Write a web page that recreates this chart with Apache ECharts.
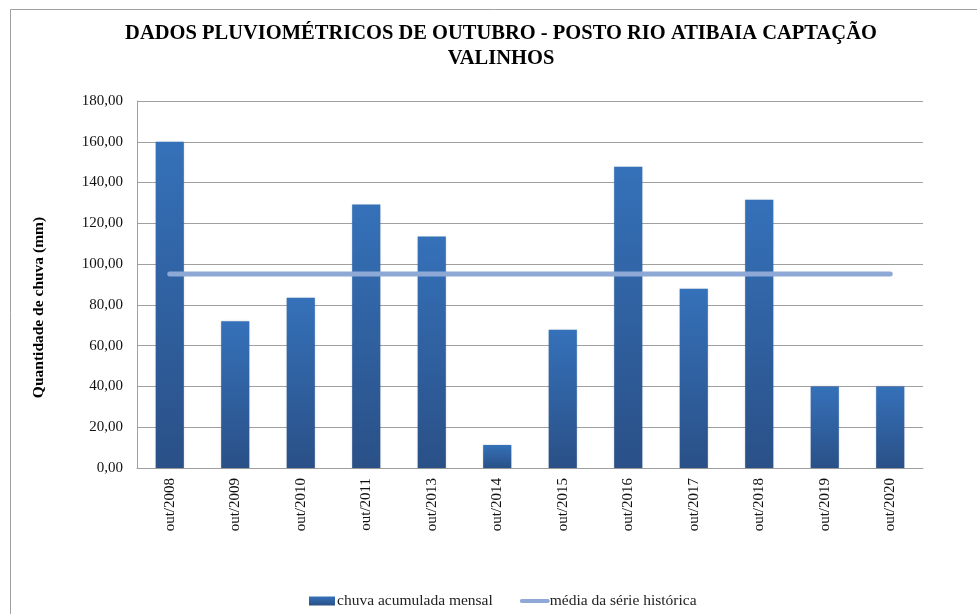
<!DOCTYPE html>
<html><head><meta charset="utf-8">
<script src="https://cdn.jsdelivr.net/npm/echarts@6/dist/echarts.min.js"></script>
<style>html,body{margin:0;padding:0;background:#fff}#c{width:977px;height:614px}</style>
</head><body><div id="c"></div>
<script>
const categories = ['out/2008','out/2009','out/2010','out/2011','out/2013','out/2014','out/2015','out/2016','out/2017','out/2018','out/2019','out/2020'];
const chuvaMensal = [160, 72, 83.5, 129.2, 113.5, 11.3, 67.8, 147.8, 87.9, 131.6, 40, 40];
const mediaHistorica = [95.1, 95.1, 95.1, 95.1, 95.1, 95.1, 95.1, 95.1, 95.1, 95.1, 95.1, 95.1];
const yTicks = [0, 20, 40, 60, 80, 100, 120, 140, 160, 180];

const chart = echarts.init(document.getElementById('c'), null, {renderer: 'canvas'});
const serif = '"Liberation Serif", "DejaVu Serif", serif';
chart.setOption({
  animation: false,
  backgroundColor: '#fff',
  textStyle: {fontFamily: serif},
  graphic: [{
    type: 'rect', silent: true, z: -1,
    shape: {x: 10.5, y: 9.5, width: 1200, height: 800},
    style: {fill: 'none', stroke: '#a0a0a0', lineWidth: 1}
  }],
  title: {
    text: 'DADOS PLUVIOMÉTRICOS DE OUTUBRO - POSTO RIO ATIBAIA CAPTAÇÃO\nVALINHOS',
    left: 496, top: 16, textAlign: 'center',
    textStyle: {fontFamily: serif, fontWeight: 'bold', fontSize: 20.5, color: '#000', lineHeight: 25}
  },
  legend: {
    bottom: 0, left: 304, itemGap: 27, itemWidth: 26, itemHeight: 9,
    textStyle: {fontFamily: serif, fontSize: 15.5, color: '#222', padding: [0,0,0,-3]},
    data: [
      {name: 'chuva acumulada mensal', icon: 'rect'},
      {name: 'média da série histórica', itemStyle: {opacity: 0}, lineStyle: {width: 4, cap: 'round', color: '#8EA9D5'}}
    ]
  },
  grid: {left: 137, right: 54, top: 101, bottom: 146},
  xAxis: {
    type: 'category', data: categories,
    axisLine: {lineStyle: {color: '#a0a0a0'}},
    axisTick: {show: false},
    axisLabel: {rotate: 90, fontFamily: serif, fontSize: 15, color: '#111', margin: 10}
  },
  yAxis: {
    type: 'value', min: 0, max: 180, interval: 20,
    name: 'Quantidade de chuva (mm)', nameLocation: 'middle', nameGap: 90,
    nameTextStyle: {fontFamily: serif, fontWeight: 'bold', fontSize: 15.5, color: '#000', padding: [0, 46, 0, 0]},
    axisLine: {show: true, lineStyle: {color: '#a0a0a0'}},
    axisTick: {show: false},
    splitLine: {lineStyle: {color: '#a0a0a0', width: 1}},
    axisLabel: {
      fontFamily: serif, fontSize: 15, color: '#111', margin: 14,
      formatter: v => yTicks.includes(v) ? v.toFixed(2).replace('.', ',') : ''
    }
  },
  series: [{
    name: 'chuva acumulada mensal', type: 'bar', data: chuvaMensal, barWidth: '43%',
    itemStyle: {
      color: new echarts.graphic.LinearGradient(0, 0, 0, 1, [
        {offset: 0, color: '#3571B9'}, {offset: 1, color: '#2A5087'}
      ]),
      shadowColor: 'rgba(0,0,0,0.15)', shadowBlur: 2
    }
  }, {
    name: 'média da série histórica', type: 'line', data: mediaHistorica,
    symbol: 'none', z: 5,
    lineStyle: {color: '#8EA9D5', width: 5, cap: 'round'},
    itemStyle: {color: '#8EA9D5'}
  }]
});
</script></body></html>
